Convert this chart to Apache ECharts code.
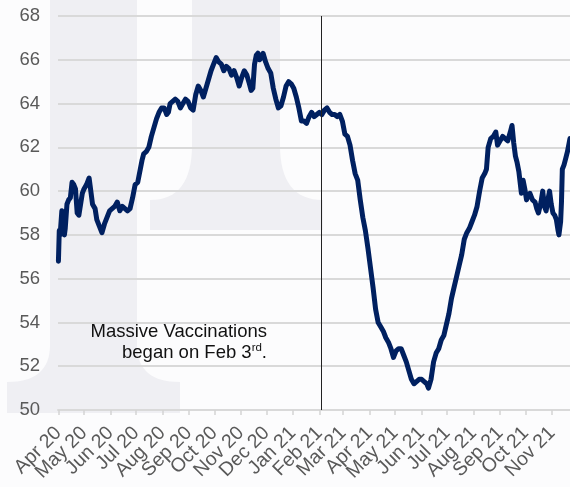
<!DOCTYPE html>
<html>
<head>
<meta charset="utf-8">
<script src="https://cdn.jsdelivr.net/npm/echarts@6/dist/echarts.min.js"></script>
<style>
  html, body { margin: 0; padding: 0; background: #fcfcfd; }
  #chart { width: 570px; height: 487px; }
</style>
</head>
<body>
<div id="chart"></div>
<script>
// Days since 2020-04-01 for each sampled point
const dayOffsets = [
  0,1,2,4,6,7,8,10,12,14,16,18,20,22,24,26,28,30,33,36,38,40,43,45,48,51,54,57,60,63,66,69,72,75,78,81,84,87,90,93,96,98,100,103,106,109,112,115,118,121,124,127,129,131,134,137,140,143,146,149,152,155,158,161,164,167,170,173,176,179,182,185,188,191,194,197,200,203,206,209,212,215,218,221,224,226,228,230,232,234,236,238,240,243,246,249,252,255,258,261,264,267,270,273,276,279,282,285,288,291,294,297,300,303,306,309,312,315,318,321,324,327,330,333,336,339,342,345,348,351,354,357,360,363,366,369,372,375,378,381,384,387,390,393,396,399,402,405,408,411,414,417,420,423,426,429,432,434,437,440,443,446,449,452,455,458,461,464,467,470,473,476,479,482,485,488,491,494,497,500,502,504,507,510,513,515,518,521,524,527,530,532,534,536,538,540,543,545,547,549,551,553,556,559,561,563,566,568,570,572,574,576,578,580,582,584,586,587,589,590,591,593,595,597,599,600
];
const values = [
  56.8,58.2,58.0,59.1,59.0,58.0,58.3,59.4,59.6,59.7,60.4,60.3,60.1,59.0,58.9,58.9,59.9,60.1,60.3,60.6,60.0,59.4,59.2,58.7,58.4,58.1,58.5,58.8,59.1,59.2,59.3,59.5,59.1,59.3,59.2,59.1,59.2,59.7,60.3,60.4,61.0,61.4,61.7,61.8,62.0,62.5,62.9,63.3,63.6,63.8,63.8,63.5,63.6,64.0,64.1,64.2,64.1,63.8,64.0,64.2,64.1,63.8,63.7,64.4,64.8,64.6,64.3,64.7,65.1,65.5,65.8,66.1,65.9,65.8,65.5,65.7,65.6,65.3,65.5,65.2,64.8,65.2,65.5,65.3,64.9,64.6,64.7,65.8,66.2,66.3,66.0,66.1,66.3,65.9,65.6,65.4,64.7,64.2,63.8,63.9,64.3,64.8,65.0,64.9,64.7,64.3,63.8,63.2,63.2,63.1,63.4,63.6,63.4,63.5,63.6,63.5,63.7,63.8,63.6,63.5,63.5,63.4,63.5,63.2,62.6,62.5,62.1,61.4,60.8,60.5,59.6,58.8,58.2,57.4,56.5,55.6,54.6,54.0,53.8,53.6,53.3,53.1,52.8,52.4,52.7,52.8,52.8,52.5,52.2,51.8,51.4,51.2,51.3,51.4,51.4,51.3,51.2,51.0,51.4,52.2,52.6,52.8,53.2,53.4,53.9,54.4,55.1,55.6,56.1,56.6,57.1,57.8,58.1,58.3,58.6,58.9,59.3,60.0,60.6,60.8,61.0,62.0,62.4,62.5,62.7,62.1,62.3,62.5,62.4,62.3,62.7,63.0,62.2,61.6,61.3,60.9,59.9,60.5,60.1,59.6,59.8,59.9,59.6,59.5,59.2,59.0,59.5,60.0,59.3,59.1,59.6,60.0,59.4,59.0,58.9,58.7,58.2,58.0,58.6,59.5,61.0,61.2,61.5,61.8,62.2,62.4
];
const tickLabels = ["Apr 20","May 20","Jun 20","Jul 20","Aug 20","Sep 20","Oct 20","Nov 20","Dec 20","Jan 21","Feb 21","Mar 21","Apr 21","May 21","Jun 21","Jul 21","Aug 21","Sep 21","Oct 21","Nov 21"];
const yTicks = [50,52,54,56,58,60,62,64,66,68];
const annotationLines = ["Massive Vaccinations", "began on Feb 3", "rd", "."];

const DAY = 86400000;
const start = Date.UTC(2020, 3, 1);
const toDay = (ts) => Math.round((ts - start) / DAY);
const seriesData = dayOffsets.map((d, i) => [d, values[i]]);
const tickValues = tickLabels.map((_, i) => toDay(Date.UTC(2020, 3 + i, 1)));
const vaxDay = toDay(Date.UTC(2021, 1, 3));
const xMaxDay = toDay(Date.UTC(2021, 10, 22));
const xMinDay = -0.5;
// blank labels at the axis ends so the real month labels are never hidden
const labelValues = [xMinDay].concat(tickValues, [xMaxDay]);

const font = "'Liberation Sans', Arial, sans-serif";
const wm = '#efeff3';

// Watermark outline (background decoration): inverted-T with concave fillets
function quad(p0, c, p1, n) {
  const pts = [];
  for (let i = 0; i <= n; i++) {
    const t = i / n, u = 1 - t;
    pts.push([u*u*p0[0] + 2*u*t*c[0] + t*t*p1[0], u*u*p0[1] + 2*u*t*c[1] + t*t*p1[1]]);
  }
  return pts;
}
function teeShape(cl, cr, neckY, footL, footR, footTop, footBottom) {
  return [[cl, 0], [cr, 0]]
    .concat(quad([cr, neckY], [cr, footTop], [footR, footTop], 16))
    .concat([[footR, footBottom], [footL, footBottom]])
    .concat(quad([footL, footTop], [cl, footTop], [cl, neckY], 16));
}

const chart = echarts.init(document.getElementById('chart'), null, { renderer: 'canvas' });
chart.setOption({
  backgroundColor: '#fcfcfd',
  animation: false,
  grid: { left: 58, right: 0, top: 16, bottom: 77 },
  graphic: [
    { type: 'polygon', z: -10, silent: true,
      shape: { points: teeShape(50, 137, 345, 7, 180, 382, 413) },
      style: { fill: wm } },
    { type: 'polygon', z: -10, silent: true,
      shape: { points: teeShape(192, 280, 145, 150, 323, 200, 230) },
      style: { fill: wm } },
    { type: 'text', z: 50, x: 267, y: 321, silent: true,
      style: {
        text: annotationLines[0] + '\n' + annotationLines[1] + '{sup|' + annotationLines[2] + '}' + annotationLines[3],
        font: '18.5px ' + font, fill: '#111', align: 'right', lineHeight: 21,
        rich: { sup: { fontSize: 11.5, fontFamily: font, fill: '#111', verticalAlign: 'top', lineHeight: 21, padding: [0, 0, 6, 0] } }
      } }
  ],
  xAxis: {
    type: 'value',
    min: xMinDay, max: xMaxDay,
    axisLine: { show: true, lineStyle: { color: '#d9d9d9', width: 2 } },
    axisTick: { show: true, customValues: tickValues, length: 5, lineStyle: { color: '#d4d4d4', width: 1.5 } },
    axisLabel: {
      customValues: labelValues, rotate: 45, margin: 20, color: '#595959',
      fontSize: 19.5, fontFamily: font, hideOverlap: false,
      showMinLabel: false, showMaxLabel: false,
      formatter: (v) => {
        const idx = tickValues.indexOf(Math.round(v));
        return (v >= 0 && v < xMaxDay && idx >= 0) ? tickLabels[idx] : '';
      }
    },
    splitLine: { show: false }
  },
  yAxis: {
    type: 'value', min: 50, max: 68, interval: 2,
    axisLine: { show: false }, axisTick: { show: false },
    axisLabel: { color: '#595959', fontSize: 18.5, fontFamily: font, margin: 18,
      formatter: (v) => yTicks.includes(v) ? String(v) : '' },
    splitLine: { lineStyle: { color: '#d9d9d9', width: 2 } }
  },
  series: [{
    type: 'line', data: seriesData, showSymbol: false, symbol: 'none',
    lineStyle: { color: '#002060', width: 5, join: 'round', cap: 'round' },
    z: 3,
    markLine: {
      silent: true, symbol: ['none', 'none'], label: { show: false },
      lineStyle: { color: '#222', width: 1, type: 'solid' },
      data: [{ xAxis: vaxDay }]
    }
  }]
});
</script>
</body>
</html>
